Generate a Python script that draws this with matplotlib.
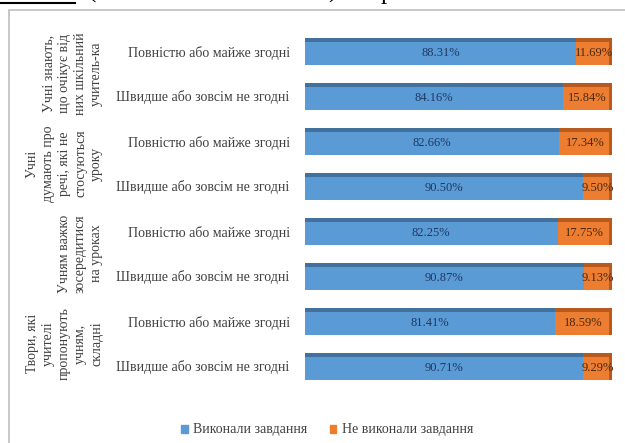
import numpy as np
import matplotlib.pyplot as plt
from matplotlib.patches import Rectangle
from matplotlib.lines import Line2D

# data
groups = ['Учні знають,\nщо очікує від\nних шкільний\nучитель-ка',
          'Учні\nдумають про\nречі, які не\nстосуються\nуроку',
          'Учням важко\nзосередитися\nна уроках',
          'Твори, які\nучителі\nпропонують\nучням,\nскладні']
answers = ['Повністю або майже згодні', 'Швидше або зовсім не згодні'] * 4
done = [88.31, 84.16, 82.66, 90.50, 82.25, 90.87, 81.41, 90.71]
not_done = [11.69, 15.84, 17.34, 9.50, 17.75, 9.13, 18.59, 9.29]
legend_labels = ['Виконали завдання', 'Не виконали завдання']

blue = '#5B9BD5'
blue_dark = '#41719C'
orange = '#ED7D31'
orange_dark = '#B85A1E'
serif = ['Liberation Serif', 'DejaVu Serif']

W, H = 625, 443
fig = plt.figure(figsize=(W / 100, H / 100), dpi=100)

# frame of the embedded chart
fig.add_artist(Rectangle((9 / W, -0.05), 1.0, 1 - 10 / H + 0.05, transform=fig.transFigure,
                         fill=False, edgecolor='#BFBFBF', linewidth=1.2))

# clipped document text above the chart (only the lowest part is on the page)
fig.text(4 / W, 1 + 8 / H, 'ДД', fontsize=18, family=serif, va='baseline')
fig.add_artist(Line2D([0, 75 / W], [1 - 3 / H, 1 - 3 / H], transform=fig.transFigure,
                      color='black', linewidth=1.5))
fig.text(88 / W, 1 + 2 / H, '(', fontsize=18, family=serif, va='baseline')
fig.text(328 / W, 1 + 2 / H, ')', fontsize=18, family=serif, va='baseline')
fig.text(381 / W, 1 + 1 / H, 'р', fontsize=18, family=serif, va='baseline')

ax = fig.add_axes([305 / W, (H - 388.5) / H, 307 / W, 360 / H])
y = np.arange(len(done))
bh = 0.6
ax.barh(y, done, height=bh, color=blue, zorder=2)
ax.barh(y, not_done, left=done, height=bh, color=orange, zorder=2)
# darker top edge (3d look)
ax.barh(y - bh / 2 + 0.045, done, height=0.09, color=blue_dark, zorder=3)
ax.barh(y - bh / 2 + 0.045, not_done, left=done, height=0.09, color=orange_dark, zorder=3)
ax.barh(y, 1.0, left=99.0, height=bh, color=orange_dark, zorder=3)

for i in range(len(done)):
    ax.text(done[i] / 2, y[i] + 0.05, f'{done[i]:.2f}%', ha='center', va='center',
            fontsize=9, color='#1F3864', family=serif, zorder=4)
    ax.text(done[i] + not_done[i] / 2, y[i] + 0.05, f'{not_done[i]:.2f}%', ha='center',
            va='center', fontsize=9, color='#4A2A10', family=serif, zorder=4)

ax.set_xlim(0, 100)
ax.set_ylim(len(done) - 0.5, -0.5)
ax.set_xticks([])
ax.set_yticks(y)
ax.set_yticklabels(answers, fontsize=10, family=serif, color='#404040')
ax.tick_params(axis='y', length=0, pad=11)
for s in ax.spines.values():
    s.set_visible(False)

# group labels, rotated
for g, label in enumerate(groups):
    yc = (y[2 * g] + y[2 * g + 1]) / 2
    ax.text(-202 / 307 * 100, yc, label, rotation=90, ha='right', va='center',
            multialignment='center', fontsize=10, family=serif, color='#404040',
            linespacing=1.3, transform=ax.transData, clip_on=False)

# legend
fig.legend(handles=[Rectangle((0, 0), 1, 1, color=blue), Rectangle((0, 0), 1, 1, color=orange)],
           labels=legend_labels, loc='center', bbox_to_anchor=(327 / W, (H - 430) / H),
           ncol=2, frameon=False, prop={'family': serif, 'size': 10}, labelcolor='#404040',
           handlelength=0.5, handleheight=0.5, columnspacing=1.6, handletextpad=0.4)

fig.savefig('out.png', dpi=100)
